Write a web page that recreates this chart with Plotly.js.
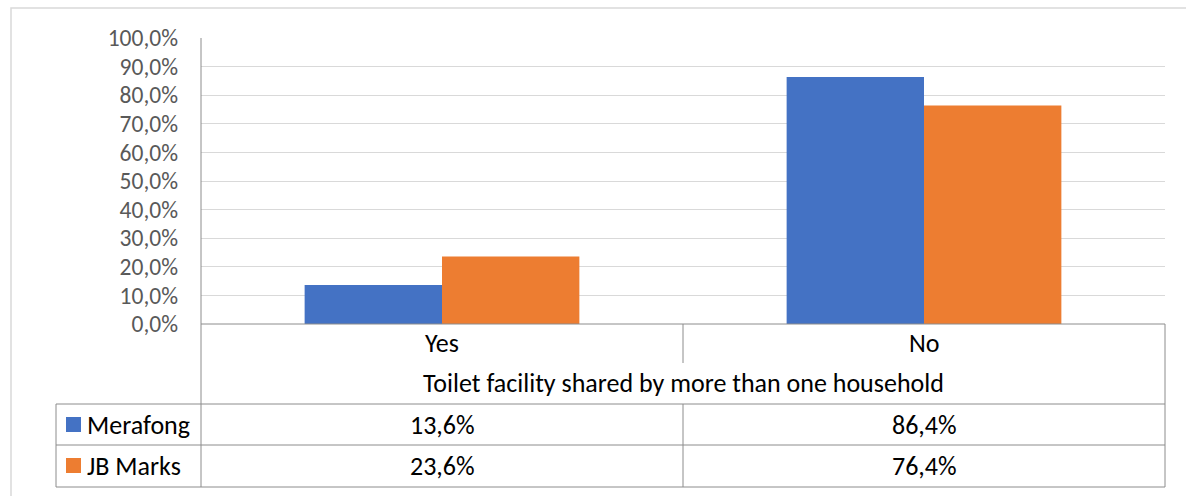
<!DOCTYPE html>
<html><head><meta charset="utf-8">
<script src="https://cdn.plot.ly/plotly-3.0.1.min.js"></script>
<style>html,body{margin:0;padding:0;background:#fff}#c{width:1186px;height:496px}</style>
</head><body><div id="c"></div>
<script>
const categories = ["Yes", "No"];
const seriesNames = ["Merafong", "JB Marks"];
const merafong = [13.6, 86.4];
const jbMarks = [23.6, 76.4];
const tickVals = [0, 10, 20, 30, 40, 50, 60, 70, 80, 90, 100];
const tickText = ["0,0%", "10,0%", "20,0%", "30,0%", "40,0%", "50,0%", "60,0%", "70,0%", "80,0%", "90,0%", "100,0%"];
const tableTitle = "Toilet facility shared by more than one household";
const colors = ["#4472C4", "#ED7D31"];

const W = 1186, H = 496, L = 201, R = 1165, T = 38, B = 324;
const px = x => (x - L) / (R - L);
const py = y => (B - y) / (B - T);
const lc = "#8c8c8c";
const font = "Calibri, Carlito, Lato, 'Open Sans', sans-serif";
const fmt = v => v.toFixed(1).replace(".", ",") + "%";

const shapes = [];
function line(x0, y0, x1, y1, color, w) {
  shapes.push({type: "line", xref: "paper", yref: "paper", x0: px(x0), y0: py(y0), x1: px(x1), y1: py(y1),
    line: {color: color || lc, width: w || 1}, layer: "above"});
}
// outer chart border
shapes.push({type: "rect", xref: "paper", yref: "paper", x0: px(11), y0: py(8), x1: px(1200), y1: py(510),
  line: {color: "#d9d9d9", width: 1.5}, layer: "below"});
// table lines
line(201, 38, 201, 487);
line(201, 324, 1165, 324);
line(56, 404, 1165, 404);
line(56, 445, 1165, 445);
line(56, 487, 1165, 487);
line(56, 404, 56, 487);
line(683, 324, 683, 363);
line(683, 404, 683, 487);
line(1165, 324, 1165, 487);

const annotations = [];
function txt(x, xref, y, text, anchor, color, size) {
  annotations.push({x: x, xref: xref, y: py(y), yref: "paper", text: text, showarrow: false,
    xanchor: anchor || "center", yanchor: "middle", font: {family: font, size: size || 26, color: color || "#000"}});
}
categories.forEach((c, i) => {
  txt(c, "x", 343, c);
  txt(c, "x", 424.5, fmt(merafong[i]));
  txt(c, "x", 465.5, fmt(jbMarks[i]));
});
txt(0.5, "paper", 382.5, tableTitle);
const rows = [424.5, 465.5];
seriesNames.forEach((n, i) => {
  shapes.push({type: "rect", xref: "paper", yref: "paper", x0: px(66), x1: px(81), y0: py(rows[i] - 7.5), y1: py(rows[i] + 7.5),
    fillcolor: colors[i], line: {width: 0}, layer: "above"});
  txt(px(85), "paper", rows[i], n, "left");
});

const data = [
  {type: "bar", name: seriesNames[0], x: categories, y: merafong, marker: {color: colors[0]}, hoverinfo: "none"},
  {type: "bar", name: seriesNames[1], x: categories, y: jbMarks, marker: {color: colors[1]}, hoverinfo: "none"}
];
const layout = {
  width: W, height: H,
  margin: {l: L, r: W - R, t: T, b: H - B, pad: 0},
  paper_bgcolor: "#fff", plot_bgcolor: "#fff",
  showlegend: false,
  barmode: "group", bargap: 0.43, bargroupgap: 0,
  xaxis: {showticklabels: false, showgrid: false, zeroline: false, showline: false, ticks: ""},
  yaxis: {range: [0, 100], tickvals: tickVals, ticktext: tickText, showgrid: true, gridcolor: "#d9d9d9", gridwidth: 1,
    zeroline: false, showline: false, ticks: "", ticklabelstandoff: 22,
    tickfont: {family: font, size: 23.5, color: "#595959"}},
  shapes: shapes, annotations: annotations
};
Plotly.newPlot("c", data, layout, {displayModeBar: false, staticPlot: true});
</script></body></html>
